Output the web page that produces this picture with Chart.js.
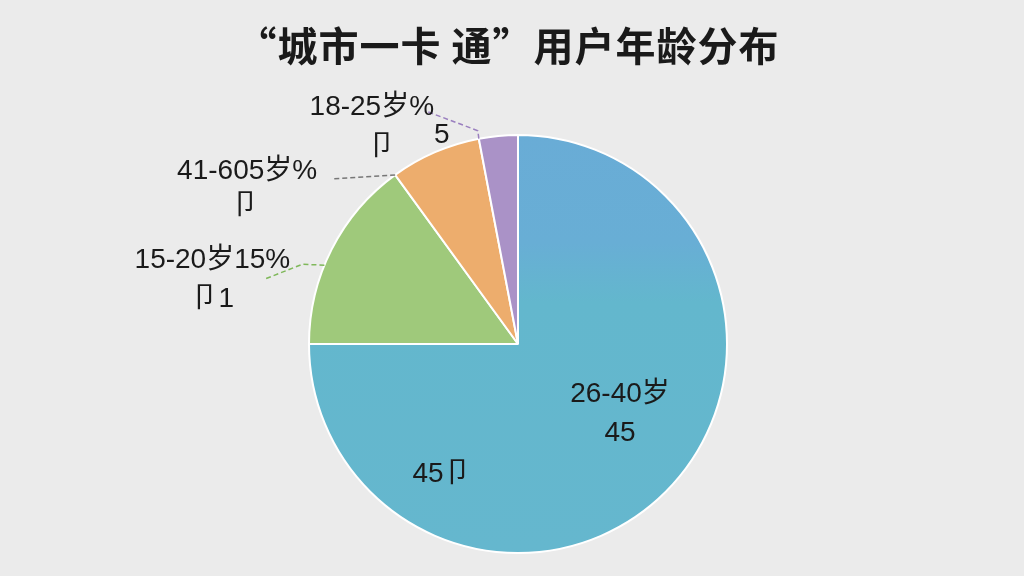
<!DOCTYPE html>
<html>
<head>
<meta charset="utf-8">
<script src="https://cdn.jsdelivr.net/npm/chart.js@4"></script>
<style>
  html, body { margin: 0; padding: 0; background: #ebebeb; }
  #wrap { width: 1024px; height: 576px; }
</style>
</head>
<body>
<div id="wrap"><canvas id="chart" width="1024" height="576"></canvas></div>
<script>
// 年龄段与占比（从图上读出的角度换算）
const categories = ['26-40岁', '15-20岁', '41-60岁', '18-25岁'];
const shares = [75, 15, 7, 3];
const sliceColors = ['#66b5cd', '#9fc97b', '#edad6d', '#aa92c7'];

const titleText = '“城市一卡 通”用户年龄分布';

// 图上的标签文字（原图就是这样写的）
const labelTexts = [
  ['26-40岁', '45', '45卩'],
  ['15-20岁15%', '卩1'],
  ['41-605岁%', '卩'],
  ['18-25岁%', '5', '卩'],
];

const labelFont = '28px "Liberation Sans", "Noto Sans CJK SC", sans-serif';
const titleFont = 'bold 40px "Noto Sans CJK SC", "Noto Sans CJK JP", sans-serif';

// 标签位置：扇区边缘上的锚点（按扇区角度比例）、引线折点、文字偏移
const labelStyle = [
  { inside: true, lines: [[102, 50], [102, 89], [-76, 130]] },
  { angle: 0.41, line: '#7fb85a', path: [[-22, -1], [-60, 14]], lines: [[-52, -19], [-52, 20]] },
  { angle: 0.0, line: '#777777', path: [[-63, 4]], lines: [[-85, -8], [-87, 27]] },
  { angle: 0.0, line: '#9a7fbf', path: [[-1, -8], [-54, -28]], lines: [[-53, -3], [17, 25], [-43, 37]] },
];

const labelPlugin = {
  id: 'sliceLabels',
  afterDatasetsDraw(chart) {
    const ctx = chart.ctx;
    const arcs = chart.getDatasetMeta(0).data;
    ctx.save();
    ctx.font = labelFont;
    ctx.fillStyle = '#1a1a1a';
    ctx.textAlign = 'center';
    ctx.textBaseline = 'middle';
    arcs.forEach((arc, i) => {
      const p = arc.getProps(['x', 'y', 'startAngle', 'endAngle', 'outerRadius']);
      const st = labelStyle[i];
      if (st.inside) {
        st.lines.forEach((off, k) => {
          ctx.fillText(labelTexts[i][k], p.x + off[0], p.y + off[1]);
        });
        return;
      }
      const a = p.startAngle + (p.endAngle - p.startAngle) * st.angle;
      const ex = p.x + Math.cos(a) * p.outerRadius;
      const ey = p.y + Math.sin(a) * p.outerRadius;
      ctx.strokeStyle = st.line;
      ctx.lineWidth = 1.5;
      ctx.setLineDash([5, 3]);
      ctx.beginPath();
      ctx.moveTo(ex, ey);
      st.path.forEach(pt => ctx.lineTo(ex + pt[0], ey + pt[1]));
      ctx.stroke();
      ctx.setLineDash([]);
      const last = st.path[st.path.length - 1];
      const tx = ex + last[0];
      const ty = ey + last[1];
      labelTexts[i].forEach((t, k) => {
        const off = st.lines[k];
        ctx.fillText(t, tx + off[0], ty + off[1]);
      });
    });
    ctx.restore();
  }
};

// 背景和标题
const bgPlugin = {
  id: 'bg',
  beforeDraw(chart) {
    const ctx = chart.ctx;
    ctx.save();
    ctx.fillStyle = '#ebebeb';
    ctx.fillRect(0, 0, chart.width, chart.height);
    ctx.font = titleFont;
    ctx.fillStyle = '#1a1a1a';
    ctx.textAlign = 'center';
    ctx.textBaseline = 'middle';
    ctx.letterSpacing = '1px';
    ctx.fillText(titleText, chart.width / 2 - 4, 46);
    ctx.restore();
  }
};

function bigSliceFill(context) {
  const chart = context.chart;
  const area = chart.chartArea;
  if (!area) return sliceColors[0];
  const g = chart.ctx.createLinearGradient(0, area.top, 0, area.bottom);
  g.addColorStop(0, '#69acd6');
  g.addColorStop(0.26, '#68aed5');
  g.addColorStop(0.4, '#63b7cd');
  g.addColorStop(1, '#65b7ce');
  return g;
}

new Chart(document.getElementById('chart'), {
  type: 'pie',
  data: {
    labels: categories,
    datasets: [{
      data: shares,
      backgroundColor: (c) => c.dataIndex === 0 ? bigSliceFill(c) : sliceColors[c.dataIndex],
      borderColor: '#ffffff',
      borderWidth: 2,
    }]
  },
  options: {
    responsive: false,
    animation: false,
    rotation: 0,
    layout: { padding: { top: 134, bottom: 22, left: 306, right: 294 } },
    plugins: {
      legend: { display: false },
      tooltip: { enabled: false },
      title: { display: false },
    },
  },
  plugins: [bgPlugin, labelPlugin],
});
</script>
</body>
</html>
